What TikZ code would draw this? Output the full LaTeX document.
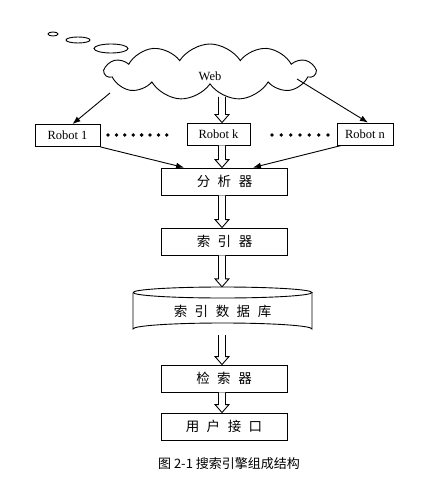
\documentclass[tikz,border=0pt]{standalone}
\usepackage{fontspec}
\setmainfont{Liberation Serif}
\newfontfamily\cjk{Noto Sans CJK SC}
\usetikzlibrary{shapes.symbols,arrows.meta,calc}
\newcommand\hsp{\hspace{7.5pt}}
\newcommand\harrowpts[2]{\draw[harrowline] let \p1=#1, \p2=#2, \p3=(axis) in
  (\x3-3.5pt,\y1) -- (\x3-3.5pt,\y2+8pt) -- (\x3-7pt,\y2+8pt) -- (\x3,\y2) --
  (\x3+7pt,\y2+8pt) -- (\x3+3.5pt,\y2+8pt) -- (\x3+3.5pt,\y1);}
\newcommand\harrow[2]{\harrowpts{(#1.south)}{(#2.north)}}
\begin{document}
\begin{tikzpicture}[x=1pt,y=-1pt,
  lw/.style={line width=0.9pt},
  robot/.style={draw,lw,minimum height=22pt,inner sep=0pt,font=\fontsize{12.5}{14}\selectfont},
  box/.style={draw,lw,minimum width=126pt,minimum height=27pt,inner sep=0pt,font=\fontsize{13.5}{15}\selectfont\cjk},
  harrowline/.style={lw,fill=white},
  arr/.style={lw,-{Latex[length=8pt,width=6pt]}},
  puff/.style={draw,lw},
  dot/.style={fill=black}]
\useasboundingbox (0,0) rectangle (421,492);
\coordinate (axis) at (222,0);
% thought-bubble ellipses
\draw[puff] (53,34) ellipse [x radius=5, y radius=2];
\draw[puff] (78,40) ellipse [x radius=12, y radius=3];
\draw[puff] (111,48.5) ellipse [x radius=17, y radius=4.5];
% cloud
\node[cloud,draw,lw,cloud puffs=11,cloud puff arc=115,cloud ignores aspect,
  minimum width=210pt,minimum height=56pt,inner sep=0pt,fill=white,
  font=\fontsize{12.5}{14}\selectfont] (web) at (210,72) {\raisebox{-9pt}[0pt][0pt]{Web}};
% robots
\node[robot,minimum width=65pt] (r1) at (67.5,135.5) {Robot 1};
\node[robot,minimum width=63pt] (rk) at (218.5,134) {Robot k};
\node[robot,minimum width=56pt] (rn) at (365,134) {Robot n};
\foreach \i in {0,...,7} \fill[dot] (108+\i*8.4,135) circle (1.9);
\foreach \i in {0,...,6} \fill[dot] (272+\i*9.33,135) circle (1.9);
% boxes
\node[box] (fx) at (224.5,181.5) {分\hsp 析\hsp 器};
\node[box] (sy) at (224.5,241.5) {索\hsp 引\hsp 器};
\node[minimum width=179pt,minimum height=48pt,inner sep=0pt,font=\fontsize{13.5}{15}\selectfont\cjk] (db) at (222.5,311) {索\hsp 引\hsp 数\hsp 据\hsp 库};
\draw[lw] (133,292.5) arc[start angle=180,end angle=-180,x radius=89.5,y radius=5.5];
\draw[lw] (133,292.5) -- (133,329) arc[start angle=180,end angle=360,x radius=89.5,y radius=6] -- (312,292.5);
\node[box] (js) at (224,378.5) {检\hsp 索\hsp 器};
\node[box] (yh) at (224,426.5) {用\hsp 户\hsp 接\hsp 口};
% connectors
\draw[arr] ([shift={(-100,21)}]web.center) -- ([xshift=5pt]r1.north);
\draw[arr] ([shift={(87,7)}]web.center) -- ([xshift=3pt]rn.north);
\harrowpts{([yshift=-25pt]web.center)}{(rk.north)}
\harrow{rk}{fx}
\draw[arr] (r1.south east) -- ([xshift=23pt]fx.north west);
\draw[arr] ([xshift=5pt]rn.south west) -- ([xshift=-35pt]fx.north east);
\harrow{fx}{sy}
\harrow{sy}{db}
\harrow{db}{js}
\harrow{js}{yh}
% caption
\node[font=\fontsize{13}{15}\selectfont\cjk] (cap) at (229,464) {图 2-1 搜索引擎组成结构};
\end{tikzpicture}
\end{document}
